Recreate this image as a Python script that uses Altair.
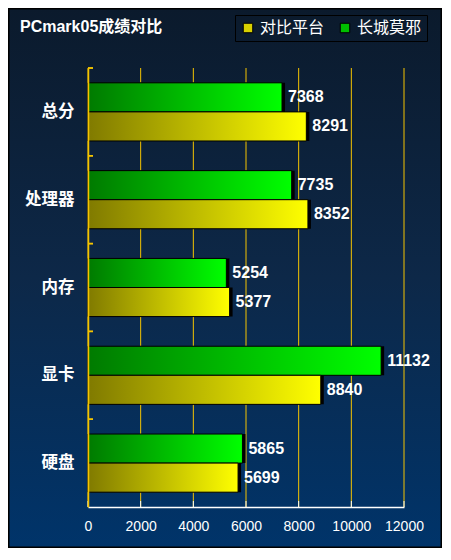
import altair as alt
import pandas as pd

categories = ["总分", "处理器", "内存", "显卡", "硬盘"]
series = ["长城莫邪", "对比平台"]
greatwall = [7368, 7735, 5254, 11132, 5865]
compare = [8291, 8352, 5377, 8840, 5699]
x_ticks = [0, 2000, 4000, 6000, 8000, 10000, 12000]
title_text = "PCmark05成绩对比"

rows = []
for c, g, p in zip(categories, greatwall, compare):
    rows.append({"cat": c, "series": series[0], "value": g})
    rows.append({"cat": c, "series": series[1], "value": p})
df = pd.DataFrame(rows)
df_g = df[df.series == series[0]]
df_p = df[df.series == series[1]]
df_ticks = pd.DataFrame({"t": x_ticks})

W, H = 316, 439
PL, PT, PR, PB = 80, 60, 38, 41
YELLOW = "#f5c400"

grad_bg = {"gradient": "linear", "x1": 0, "x2": 0, "y1": 0, "y2": 1,
           "stops": [{"offset": 0, "color": "#0b1a2c"},
                     {"offset": 0.5, "color": "#0d2848"},
                     {"offset": 1, "color": "#00346a"}]}
grad_green = {"gradient": "linear", "x1": 0, "x2": 1, "y1": 0, "y2": 0,
              "stops": [{"offset": 0, "color": "#007a00"},
                        {"offset": 1, "color": "#00ff00"}]}
grad_yellow = {"gradient": "linear", "x1": 0, "x2": 1, "y1": 0, "y2": 0,
               "stops": [{"offset": 0, "color": "#807a00"},
                         {"offset": 1, "color": "#ffff00"}]}

xscale = alt.Scale(domain=[0, 12000], nice=False)
yscale = alt.Scale(domain=categories, paddingInner=0, paddingOuter=0)
yoff_scale = alt.Scale(domain=series, paddingInner=0, paddingOuter=0.51, align=0.5)

bg = alt.Chart(pd.DataFrame({"a": [0]})).mark_rect(
    fill=grad_bg, stroke="black", strokeWidth=3
).encode(x=alt.value(-PL), x2=alt.value(W + PR), y=alt.value(-PT), y2=alt.value(H + PB))

title = alt.Chart(pd.DataFrame({"a": [0]})).mark_text(
    text=title_text, align="left", baseline="middle", color="white", fontSize=16,
    fontWeight="bold", font="Liberation Sans, Noto Sans CJK SC"
).encode(x=alt.value(-68), y=alt.value(-41))

X = alt.X("value:Q", scale=xscale,
          axis=alt.Axis(values=x_ticks, format="d", title=None, grid=False,
                        domainColor="white", domainWidth=1.5, ticks=False, zindex=1,
                        labelColor="white", labelFontSize=14, labelFont="Liberation Sans",
                        labelPadding=12, labelFlush=False))
Y = alt.Y("cat:N", scale=yscale, sort=categories,
          axis=alt.Axis(title=None, domainColor=YELLOW, domainWidth=1.5, ticks=False,
                        zindex=1, labelColor="white", labelFontSize=16.5,
                        labelFont="Noto Sans CJK SC", labelFontWeight="bold",
                        labelPadding=14, grid=False))
YO = alt.YOffset("series:N", scale=yoff_scale, sort=series)

grid = alt.Chart(df_ticks).mark_rule(color=YELLOW, strokeWidth=1).encode(
    x=alt.X("t:Q", scale=xscale))
xticks_in = alt.Chart(df_ticks).mark_rule(color="white", strokeWidth=1).encode(
    x=alt.X("t:Q", scale=xscale), y=alt.value(H - 6), y2=alt.value(H))

base = alt.Chart(df)

shadow = base.mark_bar(color="black", xOffset=3, x2Offset=3, yOffset=2, y2Offset=2).encode(
    x=X, y=Y, yOffset=YO)

bars_g = alt.Chart(df_g).mark_bar(fill=grad_green, stroke="black", strokeWidth=1).encode(
    x=X, y=Y, yOffset=YO)
bars_p = alt.Chart(df_p).mark_bar(fill=grad_yellow, stroke="black", strokeWidth=1).encode(
    x=X, y=Y, yOffset=YO)

labels = base.mark_text(align="left", baseline="middle", dx=6, color="white",
                        font="Liberation Sans", fontWeight="bold", fontSize=16).encode(
    x=X, y=Y, yOffset=YO, text="value:Q")

yticks_in = base.mark_rule(color=YELLOW, strokeWidth=1.5).encode(
    y=alt.Y("cat:N", scale=yscale, sort=categories, bandPosition=0),
    x=alt.value(0), x2=alt.value(5))

legend_layer = base.mark_square(opacity=0, size=1).encode(
    x=alt.value(0), y=alt.value(0),
    color=alt.Color("series:N",
                    scale=alt.Scale(domain=["对比平台", "长城莫邪"], range=["#d8d000", "#00c000"]),
                    legend=alt.Legend(title=None, orient="none", legendX=147, legendY=-53,
                                      direction="horizontal", strokeColor="black",
                                      padding=5, symbolSize=90, symbolType="square",
                                      symbolStrokeColor="black", symbolStrokeWidth=1,
                                      labelColor="white", labelFontSize=16,
                                      labelFont="Noto Sans CJK SC", columnPadding=12,
                                      labelOffset=4, symbolOpacity=1)))

chart = alt.layer(bg, title, grid, xticks_in, shadow, bars_g, bars_p, labels, yticks_in,
                  legend_layer).properties(
    width=W, height=H,
    autosize=alt.AutoSizeParams(type="none"),
    padding={"left": PL, "top": PT, "right": PR, "bottom": PB},
).configure(background="#0b1a2c").configure_view(stroke=None)

chart.save("out.html", embed_options={"renderer": "svg", "actions": False})
